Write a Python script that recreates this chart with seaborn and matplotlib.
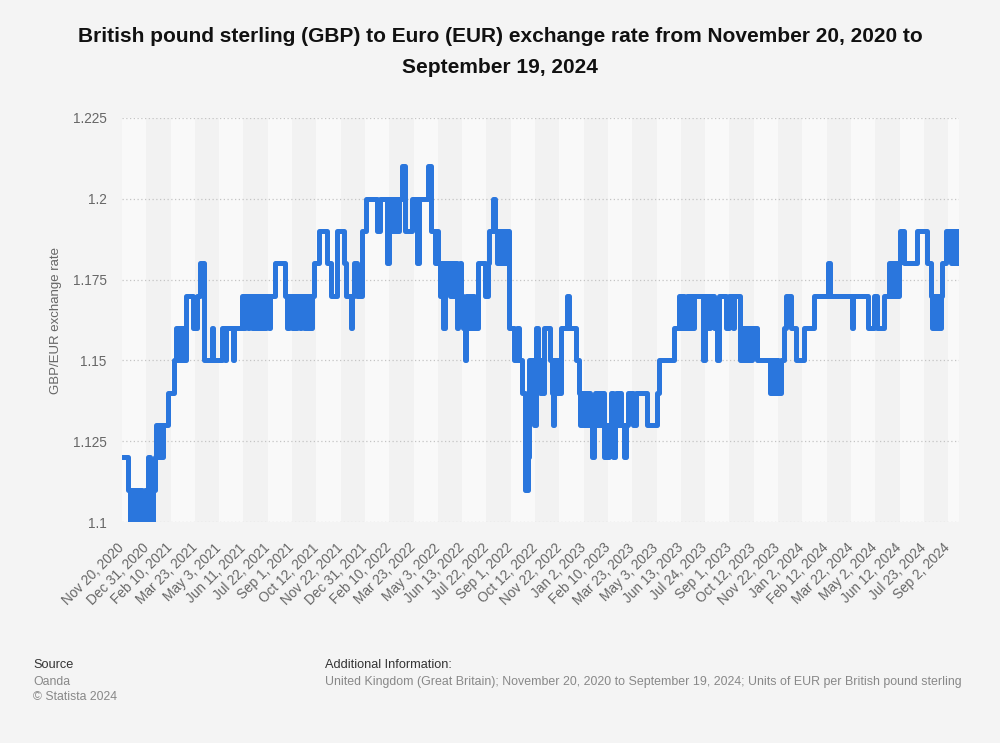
import matplotlib
matplotlib.use("Agg")
import matplotlib.pyplot as plt
import seaborn as sns
import pandas as pd

# ---------------- data (trading-day index where the rate changes, new rate) ----------------
change_idx = [
    0, 7, 9, 12, 14, 17, 19, 22, 24, 27, 29, 31, 33, 35, 37, 39, 41, 43, 45, 47, 49, 55, 62, 64, 66,
    68, 70, 72, 74, 76, 85, 90, 93, 98, 107, 109, 119, 123, 124, 132, 134, 143, 145, 147, 150, 152,
    155, 157, 160, 162, 165, 167, 170, 172, 175, 177, 183, 194, 197, 199, 203, 205, 207, 209, 212,
    214, 217, 219, 221, 223, 225, 227, 229, 235, 245, 250, 257, 265, 267, 273, 275, 277, 280, 286,
    291, 304, 308, 316, 319, 321, 323, 325, 327, 329, 331, 334, 338, 346, 352, 355, 365, 369, 374,
    375, 377, 379, 381, 383, 385, 392, 394, 396, 398, 400, 401, 403, 405, 407, 409, 410, 412, 414,
    416, 418, 420, 425, 433, 437, 438, 443, 445, 447, 449, 451, 453, 455, 457, 459, 461, 462, 468,
    471, 474, 477, 481, 484, 486, 488, 490, 492, 494, 496, 499, 501, 502, 504, 511, 513, 514, 516,
    518, 520, 522, 524, 531, 533, 542, 545, 547, 549, 551, 553, 555, 557, 559, 561, 563, 565, 567,
    569, 571, 573, 575, 577, 579, 581, 584, 586, 588, 590, 592, 594, 596, 599, 601, 604, 610, 613,
    627, 639, 641, 659, 665, 667, 669, 671, 674, 676, 678, 680, 683, 694, 696, 700, 702, 706, 710,
    712, 721, 724, 729, 731, 738, 740, 742, 744, 746, 748, 750, 752, 758, 774, 776, 777, 779, 780,
    782, 783, 786, 790, 792, 799, 805, 814, 826, 843, 845, 871, 873, 890, 897, 901, 910, 915, 917,
    919, 921, 923, 925, 927, 929, 933, 949, 961, 965, 967, 969, 971, 973, 975, 977, 979, 983, 989,
    991, 993, 995, 997, 999,
]
change_val = [
    1.12, 1.11, 1.10, 1.11, 1.10, 1.11, 1.10, 1.11, 1.10, 1.11, 1.10, 1.12, 1.11, 1.10, 1.11, 1.12,
    1.13, 1.12, 1.13, 1.12, 1.13, 1.14, 1.15, 1.16, 1.15, 1.16, 1.15, 1.16, 1.15, 1.17, 1.16, 1.17,
    1.18, 1.15, 1.16, 1.15, 1.16, 1.15, 1.16, 1.15, 1.16, 1.17, 1.16, 1.17, 1.16, 1.17, 1.16, 1.17,
    1.16, 1.17, 1.16, 1.17, 1.16, 1.17, 1.16, 1.17, 1.18, 1.17, 1.16, 1.17, 1.16, 1.17, 1.16, 1.17,
    1.16, 1.17, 1.16, 1.17, 1.16, 1.17, 1.16, 1.17, 1.18, 1.19, 1.18, 1.17, 1.19, 1.18, 1.17, 1.16,
    1.17, 1.18, 1.17, 1.19, 1.20, 1.19, 1.20, 1.18, 1.20, 1.19, 1.20, 1.19, 1.20, 1.19, 1.20, 1.21,
    1.19, 1.20, 1.18, 1.20, 1.21, 1.19, 1.18, 1.19, 1.18, 1.17, 1.18, 1.16, 1.18, 1.17, 1.18, 1.17,
    1.18, 1.16, 1.17, 1.18, 1.17, 1.16, 1.15, 1.17, 1.16, 1.17, 1.16, 1.17, 1.16, 1.18, 1.17, 1.18,
    1.19, 1.20, 1.19, 1.18, 1.19, 1.18, 1.19, 1.18, 1.19, 1.18, 1.19, 1.16, 1.15, 1.16, 1.15, 1.14,
    1.11, 1.12, 1.15, 1.14, 1.15, 1.13, 1.16, 1.15, 1.14, 1.15, 1.14, 1.16, 1.15, 1.14, 1.13, 1.15,
    1.14, 1.15, 1.14, 1.16, 1.17, 1.16, 1.15, 1.14, 1.13, 1.14, 1.13, 1.14, 1.13, 1.14, 1.13, 1.12,
    1.13, 1.14, 1.13, 1.14, 1.13, 1.14, 1.12, 1.13, 1.12, 1.13, 1.14, 1.12, 1.13, 1.14, 1.13, 1.14,
    1.13, 1.12, 1.13, 1.14, 1.13, 1.14, 1.13, 1.14, 1.15, 1.16, 1.17, 1.16, 1.17, 1.16, 1.17, 1.16,
    1.17, 1.16, 1.17, 1.15, 1.17, 1.16, 1.17, 1.16, 1.15, 1.17, 1.16, 1.17, 1.16, 1.17, 1.15, 1.16,
    1.15, 1.16, 1.15, 1.16, 1.15, 1.16, 1.15, 1.14, 1.15, 1.14, 1.15, 1.14, 1.15, 1.14, 1.15, 1.16,
    1.17, 1.16, 1.15, 1.16, 1.17, 1.18, 1.17, 1.16, 1.17, 1.16, 1.17, 1.16, 1.17, 1.18, 1.17, 1.18,
    1.17, 1.18, 1.17, 1.18, 1.19, 1.18, 1.19, 1.18, 1.17, 1.16, 1.17, 1.16, 1.17, 1.16, 1.17, 1.18,
    1.19, 1.18, 1.19, 1.18, 1.19, 1.18, 1.19,
]
tick_labels = [
    "Nov 20, 2020", "Dec 31, 2020", "Feb 10, 2021", "Mar 23, 2021", "May 3, 2021", "Jun 11, 2021",
    "Jul 22, 2021", "Sep 1, 2021", "Oct 12, 2021", "Nov 22, 2021", "Dec 31, 2021", "Feb 10, 2022",
    "Mar 23, 2022", "May 3, 2022", "Jun 13, 2022", "Jul 22, 2022", "Sep 1, 2022", "Oct 12, 2022",
    "Nov 22, 2022", "Jan 2, 2023", "Feb 10, 2023", "Mar 23, 2023", "May 3, 2023", "Jun 13, 2023",
    "Jul 24, 2023", "Sep 1, 2023", "Oct 12, 2023", "Nov 22, 2023", "Jan 2, 2024", "Feb 12, 2024",
    "Mar 22, 2024", "May 2, 2024", "Jun 12, 2024", "Jul 23, 2024", "Sep 2, 2024",
]
y_ticks = [1.1, 1.125, 1.15, 1.175, 1.2, 1.225]
y_tick_labels = ["1.1", "1.125", "1.15", "1.175", "1.2", "1.225"]
tick_step = 29
n_days = 1000

df = pd.DataFrame({"day": change_idx, "rate": change_val})

# ---------------- styling ----------------
sns.set_theme(style="white")
plt.rcParams["font.family"] = ["Liberation Sans", "DejaVu Sans"]

bg = "#f4f4f4"
fig = plt.figure(figsize=(10, 7.43), dpi=100, facecolor=bg)
ax = fig.add_axes([0.122, 0.2974, 0.837, 0.5438])
ax.set_facecolor("#f9f9f9")

for k in range(len(tick_labels)):
    if k % 2 == 1:
        ax.axvspan(k * tick_step, (k + 1) * tick_step, color="#f2f2f2", lw=0, zorder=0)

sns.lineplot(data=df, x="day", y="rate", ax=ax, color="#2a76dd", linewidth=3.6,
             drawstyle="steps-post", estimator=None, sort=False, zorder=3,
             solid_joinstyle="round", solid_capstyle="round")

ax.set_xlim(0, n_days - 1)
ax.set_ylim(1.1, 1.225)
ax.set_yticks(y_ticks)
ax.set_yticklabels(y_tick_labels)
ax.set_xticks([k * tick_step for k in range(len(tick_labels))])
ax.set_xticklabels(tick_labels, rotation=45, ha="right", va="center", rotation_mode="anchor")
ax.tick_params(axis="both", length=0, colors="#666666", labelsize=9.8)
ax.tick_params(axis="x", pad=17)
ax.tick_params(axis="y", pad=11)
ax.yaxis.grid(True, color="#c4c4c4", linestyle=(0, (1, 2)), linewidth=0.9, zorder=1)
ax.xaxis.grid(False)
ax.set_axisbelow(True)
for s in ax.spines.values():
    s.set_visible(False)
ax.set_xlabel("")
ax.set_ylabel("GBP/EUR exchange rate", color="#666666", fontsize=9.5, labelpad=8)

fig.text(0.5, 0.963, "British pound sterling (GBP) to Euro (EUR) exchange rate from November 20, 2020 to\nSeptember 19, 2024",
         ha="center", va="top", fontsize=15, fontweight="bold", color="#111111", linespacing=1.75)

fig.text(0.033, 0.105, "Source", fontsize=9.2, color="#333333", va="center")
fig.text(0.033, 0.082, "Oanda", fontsize=8.8, color="#888888", va="center")
fig.text(0.033, 0.062, "\u00a9 Statista 2024", fontsize=8.8, color="#888888", va="center")
fig.text(0.325, 0.105, "Additional Information:", fontsize=9.2, color="#333333", va="center")
fig.text(0.325, 0.082, "United Kingdom (Great Britain); November 20, 2020 to September 19, 2024; Units of EUR per British pound sterling",
         fontsize=8.9, color="#888888", va="center")

fig.savefig("out.png", dpi=100, facecolor=bg)
